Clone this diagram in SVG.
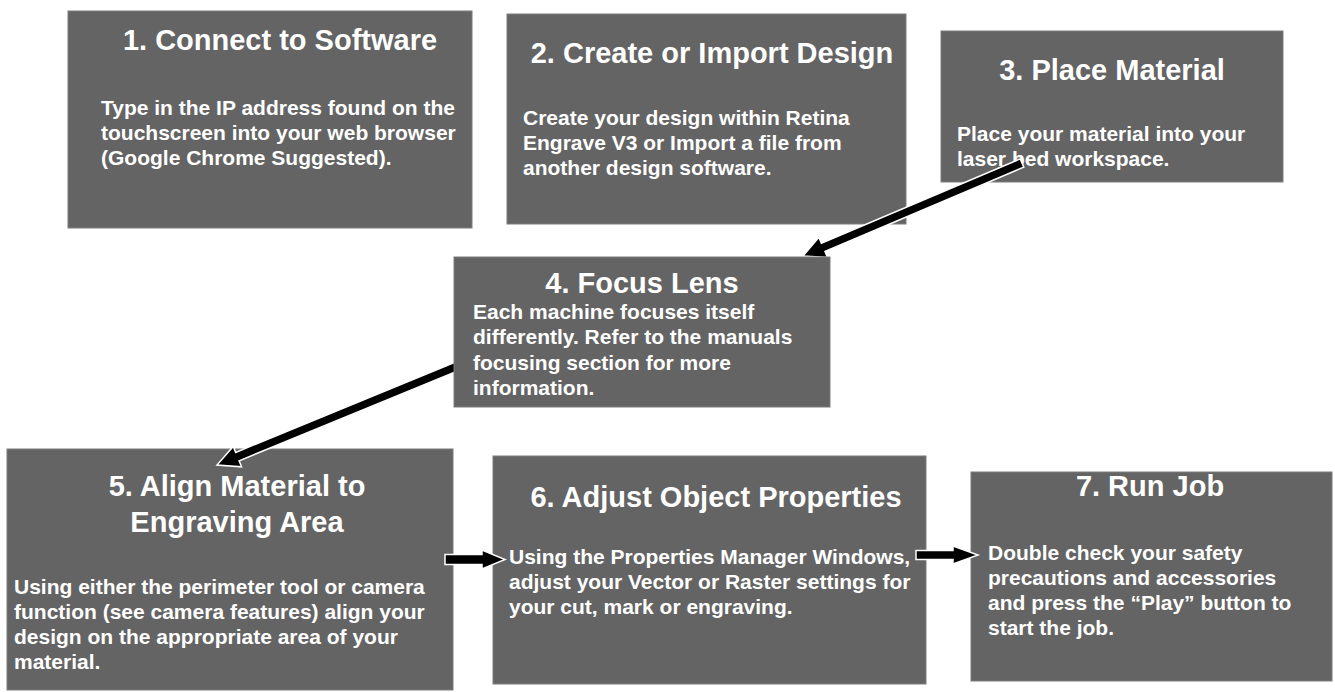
<svg xmlns="http://www.w3.org/2000/svg" width="1335" height="692" viewBox="0 0 1335 692">
<style>
.box{fill:#646464;stroke:#7c7c7c;stroke-width:1}
.t{font-family:"Liberation Sans",Arial,sans-serif;font-weight:bold;fill:#ffffff;font-size:29px;text-anchor:middle}
.b{font-family:"Liberation Sans",Arial,sans-serif;font-weight:bold;fill:#ffffff;font-size:21px}
.arr{fill:#000000;stroke:#ffffff;stroke-width:1.5;stroke-linejoin:miter}
</style>
<rect width="1335" height="692" fill="#ffffff"/>
<g id="node1">
<rect class="box" x="68" y="11" width="404" height="217"/>
<text class="t" x="280" y="50">1. Connect to Software</text>
<text class="b" x="101" y="115">Type in the IP address found on the</text>
<text class="b" x="101" y="140">touchscreen into your web browser</text>
<text class="b" x="101" y="165">(Google Chrome Suggested).</text>
</g>
<g id="node2">
<rect class="box" x="507" y="14" width="399" height="210"/>
<text class="t" x="712" y="63">2. Create or Import Design</text>
<text class="b" x="523" y="125">Create your design within Retina</text>
<text class="b" x="523" y="150">Engrave V3 or Import a file from</text>
<text class="b" x="523" y="175">another design software.</text>
</g>
<g id="node3">
<rect class="box" x="941" y="31" width="342" height="151"/>
<text class="t" x="1112" y="80">3. Place Material</text>
<text class="b" x="957" y="141">Place your material into your</text>
<text class="b" x="957" y="166">laser bed workspace.</text>
</g>
<g id="node5">
<rect class="box" x="7" y="449" width="446" height="241"/>
<text class="t" x="237" y="496">5. Align Material to</text>
<text class="t" x="237" y="532">Engraving Area</text>
<text class="b" x="14" y="594">Using either the perimeter tool or camera</text>
<text class="b" x="14" y="619">function (see camera features) align your</text>
<text class="b" x="14" y="644">design on the appropriate area of your</text>
<text class="b" x="14" y="669">material.</text>
</g>
<g id="node6">
<rect class="box" x="493" y="456" width="433" height="228"/>
<text class="t" x="716" y="507">6. Adjust Object Properties</text>
<text class="b" x="509" y="564">Using the Properties Manager Windows,</text>
<text class="b" x="509" y="589">adjust your Vector or Raster settings for</text>
<text class="b" x="509" y="614">your cut, mark or engraving.</text>
</g>
<g id="node7">
<rect class="box" x="971" y="472" width="361" height="209"/>
<text class="t" x="1150" y="496">7. Run Job</text>
<text class="b" x="988" y="560">Double check your safety</text>
<text class="b" x="988" y="585">precautions and accessories</text>
<text class="b" x="988" y="610">and press the “Play” button to</text>
<text class="b" x="988" y="635">start the job.</text>
</g>
<g id="connectors">
<polygon class="arr" points="1023.8,167.1 1020.2,158.9 821.4,243.3 818.9,237.3 803,256 827.5,257.5 825,251.5"/>
<polygon class="arr" points="471.7,365.2 468.3,356.8 235.7,452.4 233.2,446.4 217,465 241.6,466.8 239.1,460.8"/>
<polygon class="arr" points="445,554.5 482,554.5 482,550 505,559.5 482,569 482,564.5 445,564.5"/>
<polygon class="arr" points="916,550.5 953,550.5 953,546 978,555 953,564 953,559.5 916,559.5"/>
</g>
<g id="node4">
<rect class="box" x="454" y="257" width="376" height="150"/>
<text class="t" x="642" y="293">4. Focus Lens</text>
<text class="b" x="473" y="319">Each machine focuses itself</text>
<text class="b" x="473" y="344">differently. Refer to the manuals</text>
<text class="b" x="473" y="370">focusing section for more</text>
<text class="b" x="473" y="395">information.</text>
</g>
</svg>
